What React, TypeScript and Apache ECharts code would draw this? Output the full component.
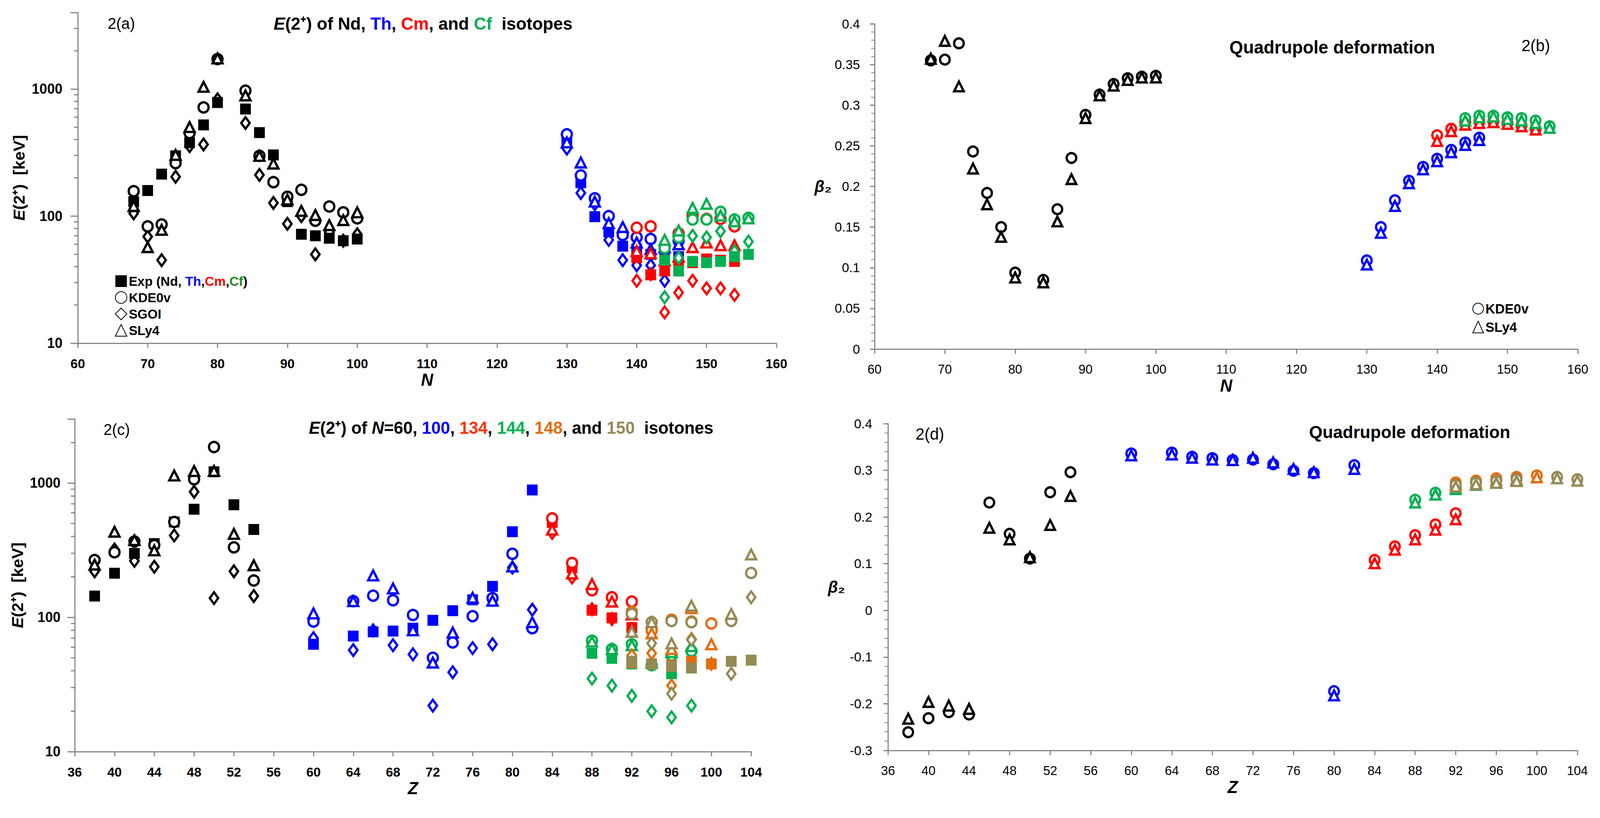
import { useEffect, useRef } from 'react';
import * as echarts from 'echarts';

// ---------- panel 2(a): E(2+) vs N ----------
const N_Nd = [68, 70, 72, 74, 76, 78, 80, 84, 86, 88, 90, 92, 94, 96, 98, 100];
const E_Nd_exp = [130, 159, 214, 298, 378, 522, 783, 696, 454, 303, 130, 72, 70, 67, 64, 66];
const E_Nd_kde = [157, 83, 86, 261, 450, 716, 1720, 970, 298, 185, 142, 161, 92, 119, 107, 96];
const E_Nd_sgoi = [105, 69, 45, 204, 355, 366, 830, 540, 211, 127, 87, 100, 50, 75, 64, 72];
const E_Nd_sly = [120, 57, 78, 303, 502, 1040, 1740, 890, 298, 259, 135, 110, 102, 85, 93, 107];

const N_Th = [130, 132, 134, 136, 138, 140, 142, 144, 146];
const E_Th_exp = [390, 183, 99, 75, 58, 55, 50, 50, 48];
const E_Th_kde = [440, 209, 138, 100, 71, 68, 66, 56, 64];
const E_Th_sgoi = [340, 152, 124, 65, 45, 41, 41, 31, 46];
const E_Th_sly = [380, 264, 130, 88, 82, 62, 55, 57, 60];

const N_Cm = [140, 142, 144, 146, 148, 150, 152, 154];
const E_Cm_exp = [47, 34.5, 37, 43, 43, 46, 45, 44];
const E_Cm_kde = [81, 83, 58, 73, 100, 95, 95, 83];
const E_Cm_sgoi = [31, 35, 17.5, 25, 31, 27, 27, 24];
const E_Cm_sly = [53, 51, 45, 48, 57, 62, 59, 59];

const N_Cf = [144, 146, 148, 150, 152, 154, 156];
const E_Cf_exp = [45, 37, 44, 43, 44, 48, 50];
const E_Cf_kde = [56, 68, 94, 94, 108, 94, 97];
const E_Cf_sgoi = [23, 47, 70, 68, 76, 53, 63];
const E_Cf_sly = [65, 77, 116, 125, 101, 91, 96];

// ---------- panel 2(b): beta2 vs N ----------
const B_Nd_kde = [0.355, 0.356, 0.376, 0.243, 0.192, 0.15, 0.094, 0.085, 0.172, 0.235, 0.288, 0.313, 0.326, 0.333, 0.335, 0.336];
const B_Nd_sly = [0.357, 0.379, 0.323, 0.222, 0.178, 0.138, 0.088, 0.082, 0.157, 0.209, 0.284, 0.312, 0.324, 0.331, 0.334, 0.334];
const B_Th_kde = [0.109, 0.15, 0.183, 0.207, 0.224, 0.234, 0.245, 0.254, 0.26];
const B_Th_sly = [0.104, 0.143, 0.176, 0.204, 0.221, 0.231, 0.242, 0.251, 0.257];
const B_Cm_kde = [0.263, 0.271, 0.279, 0.28, 0.28, 0.278, 0.275, 0.271];
const B_Cm_sly = [0.256, 0.268, 0.276, 0.278, 0.279, 0.277, 0.274, 0.27];
const B_Cf_kde = [0.284, 0.287, 0.287, 0.285, 0.284, 0.281, 0.274];
const B_Cf_sly = [0.281, 0.285, 0.286, 0.283, 0.281, 0.278, 0.272];

// ---------- panel 2(c): E(2+) vs Z ----------
const Z_N60 = [38, 40, 42, 44, 46, 48, 50, 52, 54];
const E_N60_exp = [144, 213, 299, 354, 513, 638, 1213, 689, 451];
const E_N60_kde = [267, 305, 367, 345, 513, 1066, 1853, 332, 188];
const E_N60_sgoi = [220, 320, 263, 238, 407, 861, 139, 220, 144];
const E_N60_sly = [247, 434, 376, 315, 1137, 1228, 1230, 418, 244];

const Z_N100 = [60, 64, 66, 68, 70, 72, 74, 76, 78, 80, 82];
const E_N100_exp = [63, 72.5, 78, 79, 83, 95, 112, 135, 170, 434, 888];
const E_N100_kde = [93, 132, 145, 134, 104, 50, 65, 102, 139, 297, 83];
const E_N100_sgoi = [70, 57, 80, 62, 53, 22, 39, 59, 63, 235, 114];
const E_N100_sly = [107, 132, 205, 164, 80, 46, 77, 140, 133, 239, 92];

const Z_N134 = [84, 86, 88, 90, 92];
const E_N134_exp = [509, 234, 113, 99, 84];
const E_N134_kde = [545, 254, 159, 141, 131];
const E_N134_sgoi = [425, 198, 115, 97, 80];
const E_N134_sly = [450, 212, 177, 131, 105];

const Z_N144 = [88, 90, 92, 94, 96, 98];
const E_N144_exp = [54, 49.5, 45, 45, 38, 42];
const E_N144_kde = [67, 58, 63, 44, 52, 56];
const E_N144_sgoi = [35, 31, 26, 20, 18, 22];
const E_N144_sly = [66, 58, 62, 46, 55, 61];

const Z_N148 = [92, 94, 96, 98, 100];
const E_N148_exp = [46, 45, 44, 47, 45];
const E_N148_kde = [110, 80, 96, 93, 90];
const E_N148_sgoi = [52, 54, 31, 69, 45];
const E_N148_sly = [78, 76, 58, 117, 63];

const Z_N150 = [92, 94, 96, 98, 102, 104];
const E_N150_exp = [47, 45, 43, 42, 47, 48];
const E_N150_kde = [106, 92, 94, 92, 94, 214];
const E_N150_sgoi = [46, 64, 27, 68, 38, 141];
const E_N150_sly = [78, 92, 64, 122, 106, 294];

// ---------- panel 2(d): beta2 vs Z ----------
const B_N60_kde = [-0.261, -0.231, -0.218, -0.223, 0.231, 0.164, 0.111, 0.253, 0.296];
const B_N60_sly = [-0.232, -0.196, -0.204, -0.211, 0.177, 0.152, 0.114, 0.183, 0.245];
const B_N100_kde = [0.336, 0.338, 0.329, 0.326, 0.322, 0.323, 0.313, 0.299, 0.294, -0.173, 0.311];
const B_N100_sly = [0.332, 0.334, 0.327, 0.323, 0.322, 0.327, 0.317, 0.303, 0.296, -0.182, 0.303];
const B_N134_kde = [0.108, 0.137, 0.161, 0.184, 0.208];
const B_N134_sly = [0.101, 0.13, 0.152, 0.173, 0.195];
const B_N144_kde = [0.237, 0.252, 0.265, 0.274, 0.279, 0.283];
const B_N144_sly = [0.231, 0.248, 0.26, 0.269, 0.274, 0.279];
const B_N148_kde = [0.274, 0.278, 0.283, 0.286, 0.289];
const B_N148_sly = [0.27, 0.274, 0.279, 0.282, 0.285];
const B_N150_kde = [0.269, 0.274, 0.277, 0.281, 0.286, 0.281];
const B_N150_sly = [0.265, 0.27, 0.273, 0.277, 0.283, 0.278];

// minor tick positions of the log axes
const minorKeV_a = [20, 30, 40, 50, 60, 70, 80, 90, 200, 300, 400, 500, 600, 700, 800, 900, 2000, 3000];
const minorKeV_c = [20, 30, 40, 50, 60, 70, 80, 90, 200, 300, 400, 500, 600, 700, 800, 900, 2000];
const majorKeV = [10, 100, 1000];

const W = 4175;
const H = 2095;
const BLACK = '#000000';
const BLUE = '#0000FF';
const RED = '#FF0000';
const GREEN = '#00B050';
const ORANGE = '#E46C0A';
const OLIVE = '#948A54';
const AXIS = '#868686';
const FONT = "'Liberation Sans', Arial, sans-serif";

type Kind = 'exp' | 'kde' | 'sgoi' | 'sly';

function scatter(name: string, idx: number, xs: number[], ys: number[], kind: Kind, color: string, beta = false) {
  const shapes: Record<Kind, [string, number | number[]]> = beta
    ? { exp: ['rect', 26], kde: ['circle', 25], sgoi: ['diamond', [22, 30]], sly: ['triangle', [25, 25]] }
    : { exp: ['rect', 28], kde: ['circle', 26], sgoi: ['diamond', [22, 30]], sly: ['triangle', [26, 25]] };
  const [symbol, symbolSize] = shapes[kind];
  return {
    type: 'scatter',
    name,
    xAxisIndex: idx,
    yAxisIndex: idx,
    data: xs.map((x, i) => [x, ys[i]]),
    symbol,
    symbolSize,
    itemStyle:
      kind === 'exp'
        ? { color, borderWidth: 0, opacity: 1 }
        : { color: '#ffffff', borderColor: color, borderWidth: 6, opacity: 1 },
    emphasis: { disabled: true },
  };
}

// one chain = sgoi, exp, kde, sly drawn in that order
function chain(tag: string, idx: number, xs: number[], exp: number[], kde: number[], sgoi: number[], sly: number[], color: string) {
  return [
    scatter(tag + ' SGOI', idx, xs, sgoi, 'sgoi', color),
    scatter(tag + ' Exp', idx, xs, exp, 'exp', color),
    scatter(tag + ' KDE0v', idx, xs, kde, 'kde', color),
    scatter(tag + ' SLy4', idx, xs, sly, 'sly', color),
  ];
}

function minorTicks(idx: number, x0: number, values: number[]) {
  return {
    type: 'custom',
    xAxisIndex: idx,
    yAxisIndex: idx,
    silent: true,
    clip: false,
    data: values.map((v) => [x0, v]),
    renderItem: (_p: unknown, api: any) => {
      const pt = api.coord([api.value(0), api.value(1)]);
      return {
        type: 'line',
        shape: { x1: pt[0] - 10, y1: pt[1], x2: pt[0], y2: pt[1] },
        style: { stroke: AXIS, lineWidth: 3 },
      };
    },
  };
}

const richColors = (size: number) => ({
  i: { fontStyle: 'italic', fontWeight: 'bold', fontSize: size, fontFamily: FONT, color: BLACK },
  k: { fontWeight: 'bold', fontSize: size, fontFamily: FONT, color: BLACK },
  b: { fontWeight: 'bold', fontSize: size, fontFamily: FONT, color: BLUE },
  r: { fontWeight: 'bold', fontSize: size, fontFamily: FONT, color: RED },
  o: { fontWeight: 'bold', fontSize: size, fontFamily: FONT, color: '#FF3300' },
  g: { fontWeight: 'bold', fontSize: size, fontFamily: FONT, color: GREEN },
  dg: { fontWeight: 'bold', fontSize: size, fontFamily: FONT, color: '#1E8C1E' },
  e: { fontWeight: 'bold', fontSize: size, fontFamily: FONT, color: ORANGE },
  v: { fontWeight: 'bold', fontSize: size, fontFamily: FONT, color: OLIVE },
});

function xAxisLin(grid: number, min: number, max: number, interval: number, name: string, bold: boolean) {
  return {
    type: 'value',
    gridIndex: grid,
    min,
    max,
    interval,
    name,
    nameLocation: 'middle',
    nameGap: 72,
    nameTextStyle: { fontSize: 44, fontWeight: 'bold', fontStyle: 'italic', color: BLACK, fontFamily: FONT },
    axisLine: { show: true, onZero: false, lineStyle: { color: AXIS, width: 3 } },
    axisTick: { show: true, length: 12, lineStyle: { color: AXIS, width: 3 } },
    axisLabel: { fontSize: bold ? 34 : 33, fontWeight: bold ? 'bold' : 'normal', color: BLACK, margin: 35, fontFamily: FONT },
    splitLine: { show: false },
  };
}

function yAxisLog(grid: number, max: number, gap: number, margin: number) {
  return {
    type: 'log',
    logBase: 10,
    gridIndex: grid,
    min: 10,
    max,
    name: '{i|E}{k|(2⁺)  [keV]}',
    nameLocation: 'middle',
    nameGap: gap,
    nameTextStyle: { fontSize: 42, fontWeight: 'bold', color: BLACK, fontFamily: FONT, rich: richColors(42) },
    axisLine: { show: true, lineStyle: { color: AXIS, width: 3 } },
    axisTick: { show: true, length: 19, lineStyle: { color: AXIS, width: 3 } },
    axisLabel: {
      fontSize: 36,
      fontWeight: 'bold',
      color: BLACK,
      margin,
      fontFamily: FONT,
      formatter: (v: number) => (majorKeV.includes(Math.round(v)) ? String(Math.round(v)) : ''),
    },
    splitLine: { show: false },
  };
}

function yAxisBeta(grid: number, min: number, max: number, interval: number, margin: number) {
  return {
    type: 'value',
    gridIndex: grid,
    min,
    max,
    interval,
    name: '{i|β}{k|₂}',
    nameLocation: 'middle',
    nameRotate: 0,
    nameGap: 112,
    nameTextStyle: { fontSize: 42, fontWeight: 'bold', color: BLACK, fontFamily: FONT, rich: richColors(42) },
    axisLine: { show: true, onZero: false, lineStyle: { color: AXIS, width: 3 } },
    axisTick: { show: true, length: 12, lineStyle: { color: AXIS, width: 3 } },
    minorTick: { show: true, splitNumber: 5, length: 9, lineStyle: { color: AXIS, width: 2 } },
    axisLabel: { fontSize: 34, color: BLACK, margin, fontFamily: FONT },
    splitLine: { show: false },
    minorSplitLine: { show: false },
  };
}

function label(text: string, left: number, top: number, size: number, bold: boolean) {
  return {
    text,
    left,
    top,
    padding: 0,
    textStyle: { fontSize: size, fontWeight: bold ? 'bold' : 'normal', color: BLACK, fontFamily: FONT, rich: richColors(size) },
  };
}

const betaPair = (tag: string, idx: number, xs: number[], kde: number[], sly: number[], color: string) => [
  scatter(tag + ' KDE0v', idx, xs, kde, 'kde', color, true),
  scatter(tag + ' SLy4', idx, xs, sly, 'sly', color, true),
];

const option = {
  animation: false,
  backgroundColor: '#ffffff',
  title: [
    label('{i|E}{k|(2⁺) of Nd, }{b|Th}{k|, }{r|Cm}{k|, and }{g|Cf}{k|  isotopes}', 714, 38, 45, true),
    label('2(a)', 281, 40, 40, false),
    label('Quadrupole deformation', 3208, 98, 46, true),
    label('2(b)', 3970, 95, 42, false),
    label('{i|E}{k|(2⁺) of }{i|N}{k|=60, }{b|100}{k|, }{o|134}{k|, }{g|144}{k|, }{e|148}{k|, and }{v|150}{k|  isotones}', 806, 1074, 44, true),
    label('2(c)', 270, 1080, 40, false),
    label('Quadrupole deformation', 3416, 1084, 45, true),
    label('2(d)', 2389, 1090, 42, false),
  ],
  legend: [
    {
      data: ['Exp', 'KDE0v', 'SGOI', 'SLy4'],
      orient: 'vertical',
      left: 295,
      top: 698,
      itemWidth: 30,
      itemHeight: 30,
      itemGap: 8,
      selectedMode: false,
      formatter: (name: string) => (name === 'Exp' ? 'Exp (Nd, {b|Th},{r|Cm},{dg|Cf})' : name),
      textStyle: { fontSize: 34, fontWeight: 'bold', color: BLACK, fontFamily: FONT, rich: richColors(34) },
    },
    {
      data: ['KDE0v ', 'SLy4 '],
      orient: 'vertical',
      left: 3837,
      top: 768,
      itemWidth: 28,
      itemHeight: 30,
      itemGap: 12,
      selectedMode: false,
      textStyle: { fontSize: 35, fontWeight: 'bold', color: BLACK, fontFamily: FONT },
    },
  ],
  grid: [
    { left: 203, top: 32, width: 1823, height: 847 },
    { left: 2282, top: 61, width: 1835, height: 833 },
    { left: 195, top: 1073, width: 1765, height: 852 },
    { left: 2317, top: 1085, width: 1799, height: 837 },
  ],
  xAxis: [
    xAxisLin(0, 60, 160, 10, 'N', true),
    xAxisLin(1, 60, 160, 10, 'N', false),
    xAxisLin(2, 36, 104, 4, 'Z', true),
    xAxisLin(3, 36, 104, 4, 'Z', false),
  ],
  yAxis: [
    yAxisLog(0, 4000, 132, 40),
    yAxisBeta(1, 0, 0.4, 0.05, 38),
    yAxisLog(2, 3000, 128, 37),
    yAxisBeta(3, -0.3, 0.4, 0.1, 41),
  ],
  series: [
    minorTicks(0, 60, minorKeV_a),
    minorTicks(2, 36, minorKeV_c),
    // 2(a)
    scatter('SGOI', 0, N_Nd, E_Nd_sgoi, 'sgoi', BLACK),
    scatter('Exp', 0, N_Nd, E_Nd_exp, 'exp', BLACK),
    scatter('KDE0v', 0, N_Nd, E_Nd_kde, 'kde', BLACK),
    scatter('SLy4', 0, N_Nd, E_Nd_sly, 'sly', BLACK),
    ...chain('Th', 0, N_Th, E_Th_exp, E_Th_kde, E_Th_sgoi, E_Th_sly, BLUE),
    ...chain('Cm', 0, N_Cm, E_Cm_exp, E_Cm_kde, E_Cm_sgoi, E_Cm_sly, RED),
    ...chain('Cf', 0, N_Cf, E_Cf_exp, E_Cf_kde, E_Cf_sgoi, E_Cf_sly, GREEN),
    // 2(b)
    scatter('KDE0v ', 1, N_Nd, B_Nd_kde, 'kde', BLACK, true),
    scatter('SLy4 ', 1, N_Nd, B_Nd_sly, 'sly', BLACK, true),
    ...betaPair('Th b', 1, N_Th, B_Th_kde, B_Th_sly, BLUE),
    ...betaPair('Cm b', 1, N_Cm, B_Cm_kde, B_Cm_sly, RED),
    ...betaPair('Cf b', 1, N_Cf, B_Cf_kde, B_Cf_sly, GREEN),
    // 2(c)
    ...chain('N60', 2, Z_N60, E_N60_exp, E_N60_kde, E_N60_sgoi, E_N60_sly, BLACK),
    ...chain('N100', 2, Z_N100, E_N100_exp, E_N100_kde, E_N100_sgoi, E_N100_sly, BLUE),
    ...chain('N134', 2, Z_N134, E_N134_exp, E_N134_kde, E_N134_sgoi, E_N134_sly, RED),
    ...chain('N144', 2, Z_N144, E_N144_exp, E_N144_kde, E_N144_sgoi, E_N144_sly, GREEN),
    ...chain('N148', 2, Z_N148, E_N148_exp, E_N148_kde, E_N148_sgoi, E_N148_sly, ORANGE),
    ...chain('N150', 2, Z_N150, E_N150_exp, E_N150_kde, E_N150_sgoi, E_N150_sly, OLIVE),
    // 2(d)
    ...betaPair('N60 d', 3, Z_N60, B_N60_kde, B_N60_sly, BLACK),
    ...betaPair('N100 d', 3, Z_N100, B_N100_kde, B_N100_sly, BLUE),
    ...betaPair('N134 d', 3, Z_N134, B_N134_kde, B_N134_sly, RED),
    ...betaPair('N144 d', 3, Z_N144, B_N144_kde, B_N144_sly, GREEN),
    ...betaPair('N148 d', 3, Z_N148, B_N148_kde, B_N148_sly, ORANGE),
    ...betaPair('N150 d', 3, Z_N150, B_N150_kde, B_N150_sly, OLIVE),
  ],
};

export default function App() {
  const chartRef = useRef<HTMLDivElement>(null);

  useEffect(() => {
    const el = chartRef.current;
    if (!el) return;
    // no scrollbars; fit the 4175x2095 drawing to whatever viewport we get
    document.documentElement.style.overflow = 'hidden';
    document.body.style.overflow = 'hidden';
    document.body.style.margin = '0';
    const vw = document.documentElement.clientWidth || window.innerWidth || W;
    const vh = document.documentElement.clientHeight || window.innerHeight || H;
    el.style.transform = `scale(${vw / W}, ${vh / H})`;

    const instance = echarts.init(el, undefined, { renderer: 'svg', width: W, height: H });
    instance.setOption(option as any);
    return () => {
      instance.dispose();
    };
  }, []);

  return (
    <div
      ref={chartRef}
      style={{
        position: 'absolute',
        left: 0,
        top: 0,
        width: W,
        height: H,
        background: '#fff',
        transformOrigin: '0 0',
      }}
    />
  );
}
